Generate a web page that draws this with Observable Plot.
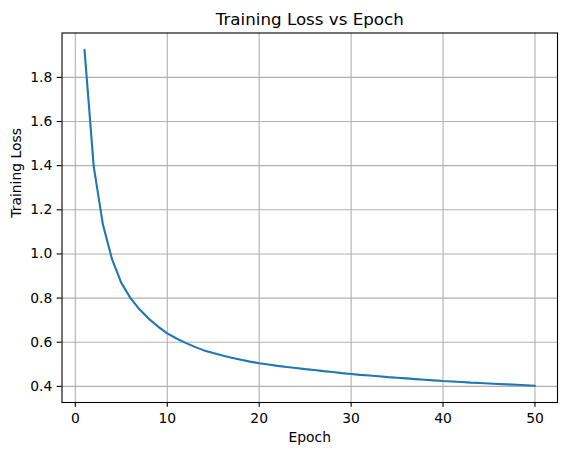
<!DOCTYPE html>
<html>
<head>
<meta charset="utf-8">
<script src="https://cdn.jsdelivr.net/npm/d3@7"></script>
<script src="https://cdn.jsdelivr.net/npm/@observablehq/plot@0.6"></script>
<style>
  html, body { margin: 0; padding: 0; background: #fff; }
  #chart svg { display: block; }
</style>
</head>
<body>
<div id="chart"></div>
<script>
const titleText = "Training Loss vs Epoch";
const xLabel = "Epoch";
const yLabel = "Training Loss";

const epochs = [1,2,3,4,5,6,7,8,9,10,11,12,13,14,15,16,17,18,19,20,21,22,23,24,25,26,27,28,29,30,31,32,33,34,35,36,37,38,39,40,41,42,43,44,45,46,47,48,49,50];
const loss = [1.925,1.397,1.133,0.975,0.869,0.800,0.748,0.706,0.671,0.640,
              0.617,0.597,0.579,0.563,0.551,0.540,0.530,0.521,0.512,0.505,
              0.499,0.493,0.488,0.483,0.478,0.474,0.469,0.465,0.460,0.456,
              0.452,0.449,0.446,0.442,0.439,0.436,0.433,0.430,0.427,0.424,
              0.422,0.420,0.417,0.415,0.413,0.411,0.409,0.407,0.405,0.403];
const xTicks = [0,10,20,30,40,50];
const yTicks = [0.4,0.6,0.8,1.0,1.2,1.4,1.6,1.8];

const data = epochs.map((e, i) => ({epoch: e, loss: loss[i]}));

const [x0, x1] = d3.extent(epochs);
const [y0, y1] = d3.extent(loss);
const xp = (x1 - x0) * 0.05, yp = (y1 - y0) * 0.05;

const font = "DejaVu Sans";
const tick = 4.86;

const chart = Plot.plot({
  width: 567,
  height: 455,
  marginLeft: 61.5,
  marginRight: 10,
  marginTop: 32.5,
  marginBottom: 53,
  style: {fontFamily: font, background: "#fff", color: "#000"},
  x: {domain: [x0 - xp, x1 + xp]},
  y: {domain: [y0 - yp, y1 + yp]},
  marks: [
    Plot.gridX(xTicks, {stroke: "#b0b0b0", strokeOpacity: 1, strokeWidth: 1.1}),
    Plot.gridY(yTicks, {stroke: "#b0b0b0", strokeOpacity: 1, strokeWidth: 1.1}),
    Plot.line(data, {x: "epoch", y: "loss", stroke: "#1f77b4", strokeWidth: 2.1}),
    Plot.frame({stroke: "#000", strokeWidth: 1.1}),
    Plot.axisX(xTicks, {tickSize: tick, tickPadding: 6, fontSize: 13.9, label: null, strokeWidth: 1.1, tickFormat: d3.format("d")}),
    Plot.axisY(yTicks, {tickSize: tick, tickPadding: 4.86, fontSize: 13.9, label: null, strokeWidth: 1.1, tickFormat: d3.format(".1f")}),
    Plot.text([titleText], {frameAnchor: "top", dy: -8.3, lineAnchor: "bottom", fontSize: 16.7, fill: "#000"}),
    Plot.text([xLabel], {frameAnchor: "bottom", dy: 39.7, lineAnchor: "bottom", fontSize: 13.9, fill: "#000"}),
    Plot.text([yLabel], {frameAnchor: "left", dx: -41.5, rotate: -90, lineAnchor: "bottom", fontSize: 13.9, fill: "#000"})
  ]
});
document.getElementById("chart").appendChild(chart);
</script>
</body>
</html>
